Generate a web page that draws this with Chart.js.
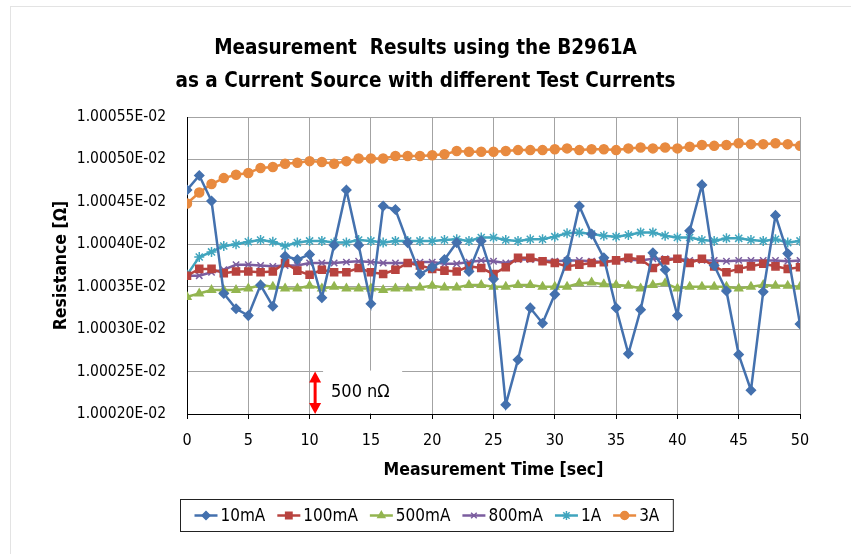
<!DOCTYPE html>
<html>
<head>
<meta charset="utf-8">
<script src="https://cdn.jsdelivr.net/npm/chart.js@4"></script>
<style>
  html, body { margin: 0; padding: 0; background: #fff; }
  #frame { position: absolute; left: 10px; top: 6px; width: 900px; height: 600px; border: 1px solid #e3e3e3; }
  #wrap { position: absolute; left: 0; top: 0; width: 851px; height: 554px; }
</style>
</head>
<body>
<div id="frame"></div>
<div id="wrap"><canvas id="c"></canvas></div>
<script>
// measurement time [sec]
const times = [0,1,2,3,4,5,6,7,8,9,10,11,12,13,14,15,16,17,18,19,20,21,22,23,24,25,
  26,27,28,29,30,31,32,33,34,35,36,37,38,39,40,41,42,43,44,45,46,47,48,49,50];

// resistance [ohm] per test current
const r10mA = [
  1.000464e-2, 1.000481e-2, 1.000451e-2, 1.000342e-2, 1.000324e-2, 1.000316e-2, 1.000352e-2, 1.000327e-2, 1.000386e-2, 1.000382e-2,
  1.000388e-2, 1.000337e-2, 1.000399e-2, 1.000464e-2, 1.000399e-2, 1.000330e-2, 1.000445e-2, 1.000441e-2, 1.000402e-2, 1.000365e-2,
  1.000373e-2, 1.000382e-2, 1.000402e-2, 1.000368e-2, 1.000404e-2, 1.000359e-2, 1.000211e-2, 1.000264e-2, 1.000325e-2, 1.000307e-2,
  1.000341e-2, 1.000381e-2, 1.000445e-2, 1.000412e-2, 1.000384e-2, 1.000325e-2, 1.000271e-2, 1.000323e-2, 1.000390e-2, 1.000370e-2,
  1.000316e-2, 1.000416e-2, 1.000470e-2, 1.000375e-2, 1.000345e-2, 1.000270e-2, 1.000228e-2, 1.000344e-2, 1.000434e-2, 1.000389e-2,
  1.000306e-2];
const r100mA = [
  1.000363e-2, 1.000371e-2, 1.000371e-2, 1.000366e-2, 1.000368e-2, 1.000368e-2, 1.000367e-2, 1.000368e-2, 1.000378e-2, 1.000369e-2,
  1.000364e-2, 1.000370e-2, 1.000367e-2, 1.000367e-2, 1.000372e-2, 1.000367e-2, 1.000365e-2, 1.000370e-2, 1.000378e-2, 1.000375e-2,
  1.000371e-2, 1.000369e-2, 1.000368e-2, 1.000374e-2, 1.000372e-2, 1.000365e-2, 1.000373e-2, 1.000384e-2, 1.000384e-2, 1.000380e-2,
  1.000378e-2, 1.000374e-2, 1.000376e-2, 1.000378e-2, 1.000379e-2, 1.000381e-2, 1.000384e-2, 1.000382e-2, 1.000372e-2, 1.000381e-2,
  1.000383e-2, 1.000378e-2, 1.000383e-2, 1.000374e-2, 1.000367e-2, 1.000371e-2, 1.000374e-2, 1.000377e-2, 1.000374e-2, 1.000371e-2,
  1.000373e-2];
const r500mA = [
  1.000338e-2, 1.000342e-2, 1.000346e-2, 1.000346e-2, 1.000346e-2, 1.000348e-2, 1.000352e-2, 1.000350e-2, 1.000348e-2, 1.000348e-2,
  1.000351e-2, 1.000348e-2, 1.000350e-2, 1.000348e-2, 1.000348e-2, 1.000348e-2, 1.000346e-2, 1.000348e-2, 1.000348e-2, 1.000349e-2,
  1.000351e-2, 1.000349e-2, 1.000349e-2, 1.000352e-2, 1.000352e-2, 1.000350e-2, 1.000350e-2, 1.000352e-2, 1.000352e-2, 1.000350e-2,
  1.000350e-2, 1.000350e-2, 1.000354e-2, 1.000355e-2, 1.000353e-2, 1.000352e-2, 1.000351e-2, 1.000348e-2, 1.000352e-2, 1.000354e-2,
  1.000348e-2, 1.000350e-2, 1.000350e-2, 1.000350e-2, 1.000350e-2, 1.000348e-2, 1.000350e-2, 1.000352e-2, 1.000351e-2, 1.000351e-2,
  1.000350e-2];
const r800mA = [
  1.000363e-2, 1.000363e-2, 1.000367e-2, 1.000370e-2, 1.000376e-2, 1.000376e-2, 1.000375e-2, 1.000374e-2, 1.000375e-2, 1.000375e-2,
  1.000378e-2, 1.000378e-2, 1.000378e-2, 1.000379e-2, 1.000380e-2, 1.000379e-2, 1.000378e-2, 1.000378e-2, 1.000378e-2, 1.000379e-2,
  1.000379e-2, 1.000377e-2, 1.000377e-2, 1.000379e-2, 1.000381e-2, 1.000380e-2, 1.000378e-2, 1.000382e-2, 1.000382e-2, 1.000381e-2,
  1.000380e-2, 1.000381e-2, 1.000381e-2, 1.000380e-2, 1.000379e-2, 1.000381e-2, 1.000382e-2, 1.000381e-2, 1.000383e-2, 1.000383e-2,
  1.000383e-2, 1.000381e-2, 1.000381e-2, 1.000381e-2, 1.000380e-2, 1.000381e-2, 1.000381e-2, 1.000381e-2, 1.000381e-2, 1.000380e-2,
  1.000381e-2];
const r1A = [
  1.000364e-2, 1.000385e-2, 1.000391e-2, 1.000398e-2, 1.000400e-2, 1.000403e-2, 1.000405e-2, 1.000403e-2, 1.000398e-2, 1.000402e-2,
  1.000404e-2, 1.000404e-2, 1.000402e-2, 1.000402e-2, 1.000405e-2, 1.000404e-2, 1.000402e-2, 1.000404e-2, 1.000404e-2, 1.000404e-2,
  1.000404e-2, 1.000405e-2, 1.000406e-2, 1.000404e-2, 1.000408e-2, 1.000408e-2, 1.000405e-2, 1.000404e-2, 1.000406e-2, 1.000406e-2,
  1.000409e-2, 1.000413e-2, 1.000414e-2, 1.000412e-2, 1.000410e-2, 1.000409e-2, 1.000411e-2, 1.000414e-2, 1.000414e-2, 1.000410e-2,
  1.000408e-2, 1.000408e-2, 1.000405e-2, 1.000404e-2, 1.000407e-2, 1.000407e-2, 1.000405e-2, 1.000404e-2, 1.000406e-2, 1.000402e-2,
  1.000404e-2];
const r3A = [
  1.000448e-2, 1.000461e-2, 1.000471e-2, 1.000478e-2, 1.000482e-2, 1.000484e-2, 1.000490e-2, 1.000491e-2, 1.000495e-2, 1.000496e-2,
  1.000498e-2, 1.000497e-2, 1.000495e-2, 1.000498e-2, 1.000501e-2, 1.000501e-2, 1.000501e-2, 1.000504e-2, 1.000504e-2, 1.000504e-2,
  1.000505e-2, 1.000506e-2, 1.000510e-2, 1.000509e-2, 1.000509e-2, 1.000509e-2, 1.000510e-2, 1.000511e-2, 1.000511e-2, 1.000511e-2,
  1.000512e-2, 1.000513e-2, 1.000511e-2, 1.000512e-2, 1.000512e-2, 1.000511e-2, 1.000513e-2, 1.000514e-2, 1.000513e-2, 1.000514e-2,
  1.000513e-2, 1.000515e-2, 1.000517e-2, 1.000516e-2, 1.000517e-2, 1.000519e-2, 1.000518e-2, 1.000518e-2, 1.000519e-2, 1.000518e-2,
  1.000516e-2];

const seriesNames = ['10mA', '100mA', '500mA', '800mA', '1A', '3A'];
const yTicks = [1.00020e-2, 1.00025e-2, 1.00030e-2, 1.00035e-2, 1.00040e-2, 1.00045e-2, 1.00050e-2, 1.00055e-2];
const titleLines = ['Measurement  Results using the B2961A', 'as a Current Source with different Test Currents'];

const FONT = "'Liberation Sans Narrow', 'DejaVu Sans Condensed', 'Arial Narrow', sans-serif";
Chart.defaults.font.family = FONT;
Chart.defaults.color = '#000';

const styles = [
  { color: '#4471AE', point: 'rectRot',  r: 4.5 },
  { color: '#B8433F', point: 'rect',     r: 5 },
  { color: '#93B550', point: 'triangle', r: 4.5 },
  { color: '#7B5D9F', point: 'crossRot', r: 4.5 },
  { color: '#40A5BE', point: 'star',     r: 5 },
  { color: '#E88A3F', point: 'circle',   r: 4.5 }
];
const values = [r10mA, r100mA, r500mA, r800mA, r1A, r3A];

function fmtE(v) {
  const [m, e] = v.toExponential(5).split('e');
  const n = Number(e);
  return m + 'E' + (n < 0 ? '-' : '+') + String(Math.abs(n)).padStart(2, '0');
}

const datasets = seriesNames.map((name, k) => ({
  label: name,
  data: times.map((t, i) => ({ x: t, y: values[k][i] })),
  borderColor: styles[k].color,
  backgroundColor: styles[k].color,
  borderWidth: 2.5,
  pointStyle: styles[k].point,
  pointRadius: styles[k].r,
  pointBackgroundColor: styles[k].color,
  pointBorderColor: styles[k].color,
  pointBorderWidth: 1.5,
  tension: 0
}));

// 500 nOhm scale marker
const markerPlugin = {
  id: 'marker',
  beforeDatasetsDraw(chart) {
    const { ctx, scales: { x, y } } = chart;
    const top = y.getPixelForValue(yTicks[1]);
    const bot = y.getPixelForValue(yTicks[0]);
    const ax = x.getPixelForValue(10.45);
    ctx.save();
    ctx.fillStyle = '#fff';
    ctx.fillRect(x.getPixelForValue(11.1), top - 1, x.getPixelForValue(17.55) - x.getPixelForValue(11.1), bot - top);
    ctx.strokeStyle = '#ff0000';
    ctx.fillStyle = '#ff0000';
    ctx.lineWidth = 3;
    ctx.beginPath();
    ctx.moveTo(ax, top + 8);
    ctx.lineTo(ax, bot - 8);
    ctx.stroke();
    ctx.beginPath();
    ctx.moveTo(ax, top); ctx.lineTo(ax - 6, top + 11); ctx.lineTo(ax + 6, top + 11); ctx.closePath();
    ctx.moveTo(ax, bot); ctx.lineTo(ax - 6, bot - 11); ctx.lineTo(ax + 6, bot - 11); ctx.closePath();
    ctx.fill();
    ctx.fillStyle = '#000';
    ctx.font = '18px ' + FONT;
    ctx.textBaseline = 'middle';
    ctx.textAlign = 'left';
    ctx.fillText('500 n\u03A9', x.getPixelForValue(11.75), (top + bot) / 2);
    ctx.restore();
  }
};

// legend with line + marker, framed
const legendPlugin = {
  id: 'boxLegend',
  afterDraw(chart) {
    const ctx = chart.ctx;
    ctx.save();
    ctx.font = '17px ' + FONT;
    const lineLen = 23, gapText = 3, gapItem = 12, padX = 14;
    const widths = seriesNames.map(n => ctx.measureText(n).width);
    let total = 0;
    widths.forEach(w => total += lineLen + gapText + w);
    total += gapItem * (seriesNames.length - 1);
    const boxW = total + padX * 2;
    const cx = 426.5;
    const bx = Math.round(cx - boxW / 2) + 0.5;
    const by = 499.5, bh = 32;
    ctx.strokeStyle = '#222';
    ctx.lineWidth = 1;
    ctx.strokeRect(bx, by, boxW, bh);
    const yc = by + bh / 2;
    let xx = bx + padX;
    seriesNames.forEach((n, k) => {
      const st = styles[k];
      ctx.strokeStyle = st.color;
      ctx.lineWidth = 2.5;
      ctx.beginPath();
      ctx.moveTo(xx, yc); ctx.lineTo(xx + lineLen, yc);
      ctx.stroke();
      ctx.fillStyle = st.color;
      ctx.lineWidth = 1.5;
      Chart.helpers.drawPoint(ctx, { pointStyle: st.point, radius: st.r - 0.5, borderWidth: 1.5, rotation: 0 }, xx + lineLen / 2, yc);
      ctx.fillStyle = '#000';
      ctx.textBaseline = 'middle';
      ctx.textAlign = 'left';
      ctx.fillText(n, xx + lineLen + gapText, yc + 1);
      xx += lineLen + gapText + widths[k] + gapItem;
    });
    ctx.restore();
  }
};

new Chart(document.getElementById('c'), {
  type: 'line',
  data: { datasets },
  plugins: [markerPlugin, legendPlugin],
  options: {
    responsive: true,
    maintainAspectRatio: false,
    animation: false,
    layout: { padding: { top: 0, right: 0, bottom: 70, left: 0 } },
    plugins: {
      legend: { display: false },
      tooltip: { enabled: false },
      title: {
        display: true,
        text: titleLines,
        color: '#000',
        font: { size: 20.5, weight: 'bold', lineHeight: 33 / 20.5 },
        padding: { top: 32, bottom: 19 }
      }
    },
    scales: {
      x: {
        type: 'linear',
        min: 0,
        max: 50,
        ticks: { stepSize: 5, font: { size: 16 }, color: '#000', padding: 12, maxRotation: 0 },
        grid: { color: '#a3a3a3', tickColor: '#000', tickLength: 5 },
        border: { color: '#000', width: 1 },
        title: { display: true, text: 'Measurement Time [sec]', color: '#000', font: { size: 17.5, weight: 'bold' }, padding: { top: 4, bottom: 3 } },
        afterFit: s => { s.height = 70; }
      },
      y: {
        min: yTicks[0],
        max: yTicks[yTicks.length - 1],
        afterBuildTicks: s => { s.ticks = yTicks.map(v => ({ value: v })); },
        ticks: { callback: v => fmtE(v), font: { size: 15.5 }, color: '#000', padding: 21 },
        grid: { color: '#a3a3a3', drawTicks: false },
        border: { color: '#000', width: 1 },
        title: { display: true, text: 'Resistance [\u03A9]', color: '#000', font: { size: 17.5, weight: 'bold' }, padding: { top: 51 } },
        afterFit: s => { s.width = 187; }
      },
      // empty right-hand strip so the title stays centred on the whole canvas
      yRight: {
        position: 'right',
        min: yTicks[0],
        max: yTicks[yTicks.length - 1],
        ticks: { display: false },
        grid: { display: false, drawTicks: false },
        border: { display: false },
        afterFit: s => { s.width = 51; }
      }
    }
  }
});
</script>
</body>
</html>
